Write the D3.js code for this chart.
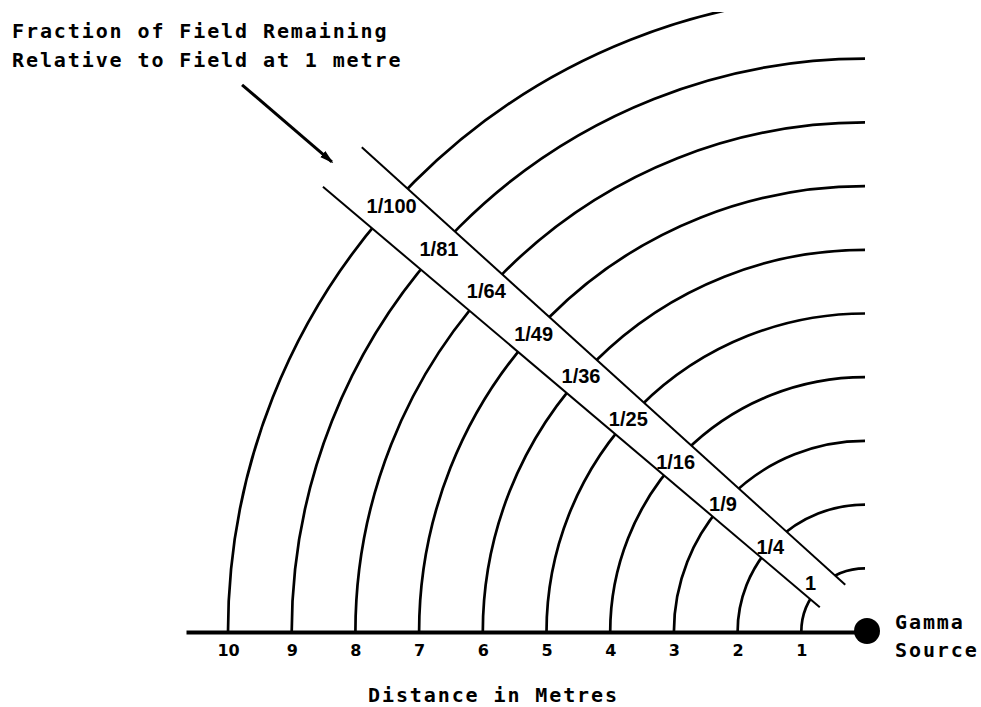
<!DOCTYPE html>
<html>
<head>
<meta charset="utf-8">
<script src="https://cdn.jsdelivr.net/npm/d3@7"></script>
<style>
  body { margin: 0; background: #fff; }
  svg { display: block; }
  .mono { font-family: "DejaVu Sans Mono", monospace; font-weight: bold; font-size: 20px; letter-spacing: 1.9px; fill: #000; }
  .frac { font-family: "Liberation Sans", Arial, sans-serif; font-weight: bold; font-size: 20px; fill: #000; }
</style>
</head>
<body>
<script>

// distances from the source, in metres
var distances = [1, 2, 3, 4, 5, 6, 7, 8, 9, 10];
var fractions = ["1", "1/4", "1/9", "1/16", "1/25", "1/36", "1/49", "1/64", "1/81", "1/100"];
var tickLabels = ["1", "2", "3", "4", "5", "6", "7", "8", "9", "10"];

// band edges and arrow, [across, up] in metres from the source
var bandUpper = [[7.90, 7.61], [0.31, 0.74]];
var bandLower = [[8.51, 6.99], [0.71, 0.39]];
var arrowLine = [[9.78, 8.59], [8.37, 7.38]];
var labelAngle = 42;

var width = 981,
    height = 707;

var x = d3.scaleLinear().domain([0, 10.66]).range([865, 186]);
var y = d3.scaleLinear().domain([0, 10]).range([632, -5]);
var r = d3.scaleLinear().domain([0, 10]).range([0, 637]);

var svg = d3.select("body").append("svg")
    .attr("width", width)
    .attr("height", height);

var defs = svg.append("defs");
defs.append("clipPath").attr("id", "clip")
  .append("rect")
    .attr("x", 0).attr("y", 12)
    .attr("width", width).attr("height", height);

defs.append("marker")
    .attr("id", "head")
    .attr("markerUnits", "userSpaceOnUse")
    .attr("viewBox", "0 0 14 10")
    .attr("refX", 12).attr("refY", 5)
    .attr("markerWidth", 14).attr("markerHeight", 10)
    .attr("orient", "auto")
  .append("path")
    .attr("d", "M0,1L14,5L0,9Z")
    .attr("fill", "#000");

// Arcs.
svg.append("g")
    .attr("clip-path", "url(#clip)")
  .selectAll("path")
    .data(distances)
  .enter().append("path")
    .attr("d", function(d) {
      var p = d3.path();
      p.arc(x(0), y(0), r(d), Math.PI, 1.5 * Math.PI);
      return p.toString();
    })
    .attr("fill", "none")
    .attr("stroke", "#000")
    .attr("stroke-width", 2.7);

// Band (white strip over the arcs).
var line = d3.line()
    .x(function(d) { return x(d[0]); })
    .y(function(d) { return y(d[1]); });

svg.append("path")
    .attr("d", line([bandUpper[0], bandUpper[1], bandLower[1], bandLower[0]]) + "Z")
    .attr("fill", "#fff");

svg.selectAll(".edge")
    .data([bandUpper, bandLower])
  .enter().append("path")
    .attr("class", "edge")
    .attr("d", line)
    .attr("fill", "none")
    .attr("stroke", "#000")
    .attr("stroke-width", 2);

// Fraction labels along the band.
var a = labelAngle * Math.PI / 180;
svg.selectAll(".frac")
    .data(distances)
  .enter().append("text")
    .attr("class", "frac")
    .attr("x", function(d) { return x(Math.max(d, 1.15) * Math.cos(a)); })
    .attr("y", function(d) { return y(Math.max(d, 1.15) * Math.sin(a)); })
    .attr("text-anchor", "middle")
    .attr("dy", ".36em")
    .text(function(d, i) { return fractions[i]; });

// X-axis (ground line).
var xAxis = d3.axisBottom(x)
    .tickValues(distances)
    .tickFormat(function(d, i) { return tickLabels[i]; })
    .tickSize(0)
    .tickSizeOuter(0)
    .tickPadding(13);

var gx = svg.append("g")
    .attr("transform", "translate(0," + y(0) + ")")
    .call(xAxis);

gx.select(".domain")
    .attr("stroke", "#000")
    .attr("stroke-width", 4);

gx.selectAll(".tick text")
    .attr("font-family", "DejaVu Sans, sans-serif")
    .attr("font-weight", "bold")
    .attr("font-size", 16)
    .attr("fill", "#000");

// Source.
svg.append("circle")
    .attr("cx", x(0) + 2)
    .attr("cy", y(0) - 1)
    .attr("r", 13)
    .attr("fill", "#000");

svg.append("text").attr("class", "mono")
    .attr("x", 895).attr("y", 629)
    .text("Gamma");
svg.append("text").attr("class", "mono")
    .attr("x", 895).attr("y", 657)
    .text("Source");

// Title and arrow.
svg.append("text").attr("class", "mono")
    .attr("x", 12).attr("y", 38)
    .text("Fraction of Field Remaining");
svg.append("text").attr("class", "mono")
    .attr("x", 12).attr("y", 67)
    .text("Relative to Field at 1 metre");

svg.append("path")
    .attr("d", line(arrowLine))
    .attr("stroke", "#000")
    .attr("stroke-width", 3)
    .attr("marker-end", "url(#head)");

svg.append("text").attr("class", "mono")
    .attr("x", 368).attr("y", 702)
    .text("Distance in Metres");

</script>
</body>
</html>
